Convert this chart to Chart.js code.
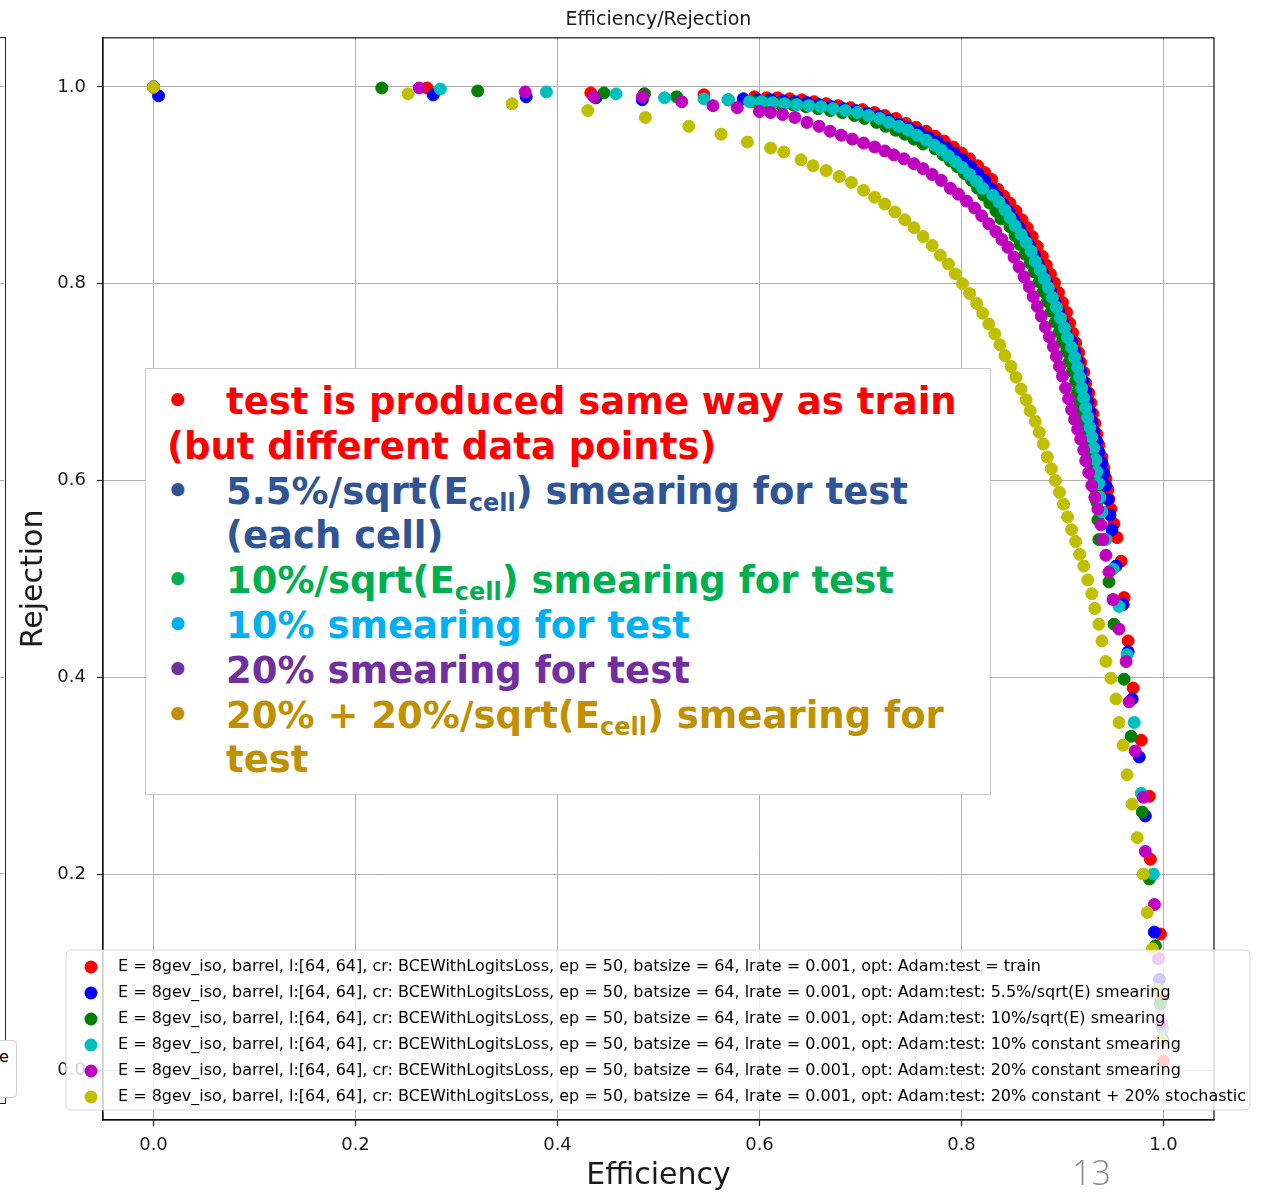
<!DOCTYPE html>
<html>
<head>
<meta charset="utf-8">
<title>Efficiency/Rejection</title>
<script src="https://cdn.jsdelivr.net/npm/chart.js@4.4.1/dist/chart.umd.min.js"></script>
<style>
  html, body { margin: 0; padding: 0; background: #fff; }
  #slide { position: relative; width: 1261px; height: 1192px; overflow: hidden; background: #fff; }
  #chart { position: absolute; left: 0; top: 0; }
  .prev-frame { position: absolute; left: -20px; top: 37px; width: 24px; height: 1065px; border: 1.5px solid #222; }
  .prev-grid { position: absolute; left: 0; width: 4px; height: 1px; background: #b0b0b0; }
  .prev-legend { position: absolute; left: -30px; top: 1040px; width: 45px; height: 56px; border: 1px solid #d0d0d0; border-radius: 4px; background: #fff; }
  .prev-legend span { position: absolute; left: 28px; top: 6px; font: 16px "DejaVu Sans"; color: #000; }
  #note { position: absolute; left: 145px; top: 368px; width: 846px; height: 427px; box-sizing: border-box;
          border: 1.5px solid #c8c8c8; background: #fff; padding-top: 11px;
          font: bold 37px "DejaVu Sans"; line-height: 44.8px; white-space: nowrap; }
  .ln { position: relative; padding-left: 80px; }
  .ln.wrap0 { padding-left: 21px; }
  .ln .b { position: absolute; left: 20px; top: 0; }
  .sub { font-size: 24px; vertical-align: -7px; line-height: 0; }
  #page { position: absolute; left: 1072px; top: 1155px; font: 300 34px "Open Sans"; line-height: 34px; color: #8c8c8c; }
</style>
</head>
<body>
<div id="slide">
  <div class="prev-frame"></div>
  <div class="prev-grid" style="top:86px"></div>
  <div class="prev-grid" style="top:283px"></div>
  <div class="prev-grid" style="top:480px"></div>
  <div class="prev-grid" style="top:677px"></div>
  <div class="prev-grid" style="top:873px"></div>
  <div class="prev-legend"><span>e</span></div>

  <canvas id="chart" width="1261" height="1192"></canvas>

  <div id="note">
    <div class="ln" style="color:#ff0000"><span class="b">•</span>test is produced same way as train</div>
    <div class="ln wrap0" style="color:#ff0000">(but different data points)</div>
    <div class="ln" style="color:#2f5597"><span class="b">•</span>5.5%/sqrt(E<span class="sub">cell</span>) smearing for test</div>
    <div class="ln" style="color:#2f5597">(each cell)</div>
    <div class="ln" style="color:#00b050"><span class="b">•</span>10%/sqrt(E<span class="sub">cell</span>) smearing for test</div>
    <div class="ln" style="color:#00b0f0"><span class="b">•</span>10% smearing for test</div>
    <div class="ln" style="color:#7030a0"><span class="b">•</span>20% smearing for test</div>
    <div class="ln" style="color:#bf9000"><span class="b">•</span>20% + 20%/sqrt(E<span class="sub">cell</span>) smearing for</div>
    <div class="ln" style="color:#bf9000">test</div>
  </div>

  <div id="page">13</div>
</div>

<script>
// [efficiency, rejection] pairs, one list per run
const trainPts = [[0,1],[0.271,0.999],[0.433,0.994],[0.486,0.993],[0.545,0.992],[0.595,0.990],[0.607,0.989],[0.618,0.989],[0.630,0.988],[0.642,0.987],[0.654,0.985],[0.666,0.983],[0.678,0.981],[0.690,0.979],[0.702,0.977],[0.714,0.974],[0.724,0.971],[0.735,0.968],[0.745,0.963],[0.755,0.959],[0.765,0.955],[0.774,0.950],[0.783,0.945],[0.792,0.939],[0.800,0.933],[0.808,0.927],[0.816,0.920],[0.823,0.913],[0.830,0.906],[0.836,0.896],[0.842,0.889],[0.848,0.882],[0.854,0.874],[0.860,0.865],[0.865,0.857],[0.870,0.848],[0.875,0.838],[0.880,0.828],[0.884,0.819],[0.888,0.810],[0.892,0.801],[0.896,0.791],[0.900,0.781],[0.904,0.771],[0.907,0.760],[0.910,0.750],[0.913,0.740],[0.916,0.730],[0.918,0.720],[0.921,0.710],[0.923,0.699],[0.926,0.689],[0.928,0.679],[0.930,0.668],[0.932,0.658],[0.934,0.647],[0.936,0.636],[0.939,0.624],[0.941,0.613],[0.943,0.602],[0.945,0.591],[0.946,0.581],[0.948,0.571],[0.951,0.556],[0.954,0.542],[0.958,0.518],[0.961,0.481],[0.965,0.437],[0.970,0.389],[0.978,0.336],[0.986,0.279],[0.987,0.215],[0.997,0.139],[0.998,0.073],[1.0,0.010]];

const smear55Pts = [[0.005,0.991],[0.277,0.992],[0.369,0.990],[0.438,0.989],[0.484,0.987],[0.584,0.988],[0.598,0.987],[0.611,0.987],[0.623,0.986],[0.635,0.985],[0.647,0.984],[0.659,0.982],[0.671,0.980],[0.683,0.978],[0.695,0.976],[0.707,0.973],[0.718,0.970],[0.728,0.966],[0.738,0.962],[0.748,0.958],[0.758,0.954],[0.767,0.949],[0.776,0.944],[0.785,0.938],[0.793,0.932],[0.801,0.926],[0.809,0.919],[0.816,0.912],[0.823,0.905],[0.830,0.896],[0.835,0.889],[0.841,0.881],[0.847,0.873],[0.852,0.865],[0.857,0.857],[0.862,0.848],[0.867,0.839],[0.872,0.829],[0.876,0.820],[0.880,0.811],[0.884,0.802],[0.888,0.792],[0.892,0.782],[0.896,0.772],[0.900,0.761],[0.903,0.751],[0.909,0.741],[0.912,0.731],[0.915,0.721],[0.918,0.711],[0.920,0.701],[0.923,0.690],[0.925,0.680],[0.927,0.670],[0.929,0.660],[0.931,0.650],[0.934,0.640],[0.936,0.629],[0.939,0.618],[0.941,0.607],[0.943,0.595],[0.945,0.581],[0.947,0.565],[0.949,0.550],[0.953,0.513],[0.960,0.474],[0.965,0.426],[0.969,0.378],[0.976,0.319],[0.982,0.259],[0.991,0.141],[0.996,0.093],[0.999,0.032]];

const smear10Pts = [[0,1],[0.226,0.999],[0.321,0.996],[0.446,0.994],[0.486,0.993],[0.518,0.990],[0.569,0.987],[0.594,0.985],[0.607,0.984],[0.620,0.983],[0.633,0.982],[0.646,0.980],[0.658,0.978],[0.670,0.976],[0.682,0.974],[0.694,0.971],[0.704,0.968],[0.716,0.964],[0.725,0.960],[0.735,0.956],[0.744,0.952],[0.753,0.947],[0.762,0.942],[0.774,0.937],[0.782,0.931],[0.789,0.925],[0.796,0.919],[0.803,0.912],[0.810,0.905],[0.816,0.897],[0.822,0.890],[0.828,0.882],[0.834,0.874],[0.839,0.866],[0.848,0.858],[0.853,0.849],[0.858,0.840],[0.863,0.830],[0.868,0.821],[0.872,0.812],[0.877,0.802],[0.881,0.792],[0.885,0.782],[0.889,0.772],[0.893,0.761],[0.897,0.751],[0.900,0.741],[0.904,0.731],[0.907,0.721],[0.910,0.711],[0.913,0.701],[0.915,0.690],[0.917,0.680],[0.920,0.670],[0.922,0.660],[0.924,0.650],[0.926,0.638],[0.928,0.627],[0.930,0.616],[0.931,0.604],[0.933,0.591],[0.934,0.578],[0.935,0.560],[0.936,0.540],[0.946,0.497],[0.951,0.454],[0.961,0.398],[0.968,0.340],[0.979,0.263],[0.986,0.195],[0.992,0.127],[0.997,0.068]];

const const10Pts = [[0,1],[0.284,0.998],[0.389,0.995],[0.458,0.993],[0.506,0.989],[0.545,0.988],[0.569,0.987],[0.590,0.985],[0.602,0.985],[0.613,0.984],[0.625,0.983],[0.637,0.982],[0.649,0.981],[0.661,0.980],[0.673,0.978],[0.685,0.976],[0.697,0.974],[0.708,0.971],[0.719,0.968],[0.728,0.964],[0.738,0.960],[0.747,0.956],[0.756,0.951],[0.765,0.946],[0.773,0.941],[0.780,0.936],[0.787,0.930],[0.794,0.924],[0.801,0.918],[0.808,0.911],[0.815,0.904],[0.821,0.897],[0.831,0.890],[0.837,0.883],[0.843,0.875],[0.848,0.867],[0.853,0.859],[0.859,0.850],[0.864,0.842],[0.869,0.833],[0.873,0.823],[0.878,0.814],[0.882,0.805],[0.886,0.796],[0.890,0.786],[0.894,0.776],[0.898,0.765],[0.902,0.755],[0.905,0.745],[0.909,0.735],[0.912,0.725],[0.915,0.715],[0.917,0.705],[0.919,0.694],[0.921,0.684],[0.923,0.674],[0.925,0.664],[0.927,0.654],[0.929,0.644],[0.931,0.633],[0.933,0.621],[0.934,0.609],[0.936,0.597],[0.937,0.583],[0.939,0.568],[0.943,0.540],[0.950,0.510],[0.956,0.472],[0.964,0.423],[0.971,0.354],[0.978,0.282],[0.990,0.200],[0.995,0.114],[0.999,0.043]];

const const20Pts = [[0,1],[0.263,0.999],[0.368,0.995],[0.436,0.990],[0.484,0.990],[0.523,0.985],[0.554,0.981],[0.578,0.979],[0.600,0.975],[0.611,0.974],[0.623,0.972],[0.635,0.969],[0.647,0.964],[0.659,0.960],[0.670,0.955],[0.681,0.951],[0.692,0.947],[0.703,0.943],[0.714,0.939],[0.724,0.935],[0.733,0.931],[0.743,0.927],[0.753,0.922],[0.762,0.917],[0.771,0.911],[0.780,0.905],[0.789,0.897],[0.797,0.891],[0.805,0.884],[0.813,0.877],[0.820,0.869],[0.827,0.861],[0.834,0.853],[0.840,0.845],[0.846,0.837],[0.852,0.827],[0.857,0.817],[0.862,0.807],[0.867,0.797],[0.871,0.787],[0.875,0.777],[0.879,0.767],[0.883,0.756],[0.887,0.746],[0.891,0.736],[0.894,0.726],[0.897,0.716],[0.900,0.706],[0.903,0.694],[0.906,0.683],[0.909,0.672],[0.912,0.662],[0.915,0.652],[0.918,0.642],[0.921,0.631],[0.923,0.620],[0.926,0.608],[0.929,0.595],[0.932,0.583],[0.935,0.571],[0.938,0.555],[0.940,0.540],[0.943,0.524],[0.946,0.507],[0.950,0.479],[0.956,0.449],[0.963,0.416],[0.966,0.375],[0.972,0.325],[0.980,0.278],[0.982,0.223],[0.991,0.169],[0.995,0.114],[0.998,0.048]];

const stochPts = [[0,1],[0.252,0.993],[0.355,0.983],[0.430,0.976],[0.487,0.969],[0.530,0.960],[0.562,0.952],[0.588,0.944],[0.611,0.938],[0.624,0.934],[0.641,0.926],[0.653,0.920],[0.666,0.915],[0.679,0.909],[0.691,0.903],[0.703,0.895],[0.714,0.888],[0.724,0.881],[0.734,0.873],[0.744,0.865],[0.753,0.857],[0.762,0.848],[0.771,0.839],[0.779,0.829],[0.787,0.820],[0.794,0.810],[0.801,0.800],[0.808,0.790],[0.815,0.780],[0.821,0.770],[0.827,0.759],[0.833,0.749],[0.838,0.738],[0.843,0.727],[0.849,0.716],[0.854,0.705],[0.859,0.693],[0.864,0.682],[0.868,0.671],[0.873,0.660],[0.877,0.649],[0.881,0.637],[0.885,0.624],[0.889,0.612],[0.893,0.600],[0.897,0.588],[0.901,0.576],[0.905,0.563],[0.909,0.550],[0.913,0.538],[0.917,0.525],[0.921,0.513],[0.925,0.499],[0.929,0.485],[0.932,0.470],[0.936,0.454],[0.939,0.437],[0.943,0.416],[0.948,0.399],[0.953,0.378],[0.956,0.354],[0.960,0.331],[0.964,0.301],[0.969,0.271],[0.974,0.237],[0.980,0.200],[0.984,0.161],[0.989,0.124],[0.994,0.083],[0.998,0.032]];

const runPrefix = "E = 8gev_iso, barrel, l:[64, 64], cr: BCEWithLogitsLoss, ep = 50, batsize = 64, lrate = 0.001, opt: Adam:";
const runLabels = [
  runPrefix + "test = train",
  runPrefix + "test: 5.5%/sqrt(E) smearing",
  runPrefix + "test: 10%/sqrt(E) smearing",
  runPrefix + "test: 10% constant smearing",
  runPrefix + "test: 20% constant smearing",
  runPrefix + "test: 20% constant + 20% stochastic"
];
const runSeries = [trainPts, smear55Pts, smear10Pts, const10Pts, const20Pts, stochPts];
const runColors = ["#ff0000", "#0000ff", "#008000", "#00bfbf", "#bf00bf", "#bfbf00"];
const tickValues = [0, 0.2, 0.4, 0.6, 0.8, 1.0];

Chart.defaults.font.family = '"DejaVu Sans"';
Chart.defaults.color = "#1a1a1a";

// full box around the axes plus the matplotlib style legend in the lower left
const frameAndLegend = {
  id: "frameAndLegend",
  afterDatasetsDraw(chart) {
    const { ctx, chartArea: a } = chart;
    ctx.save();
    ctx.strokeStyle = "#111";
    ctx.lineWidth = 1.2;
    ctx.strokeRect(a.left, a.top, a.right - a.left, a.bottom - a.top);

    const bx = a.left - 37, by = a.bottom - 170, bw = 1184, bh = 160;
    ctx.beginPath();
    ctx.roundRect(bx, by, bw, bh, 5);
    ctx.fillStyle = "rgba(255,255,255,0.8)";
    ctx.fill();
    ctx.strokeStyle = "rgba(204,204,204,0.8)";
    ctx.lineWidth = 1;
    ctx.stroke();

    ctx.font = '16px "DejaVu Sans"';
    ctx.textBaseline = "middle";
    chart.data.datasets.forEach((ds, i) => {
      const y = by + 17 + i * 26;
      ctx.beginPath();
      ctx.arc(bx + 25, y, 6.5, 0, Math.PI * 2);
      ctx.fillStyle = ds.backgroundColor;
      ctx.fill();
      ctx.fillStyle = "#000";
      ctx.fillText(ds.label, bx + 52, y);
    });
    ctx.restore();
  }
};

const axisCommon = {
  type: "linear",
  min: -0.05,
  max: 1.05,
  afterBuildTicks: (scale) => { scale.ticks = tickValues.map((v) => ({ value: v })); },
  grid: { color: "#b0b0b0", lineWidth: 1, tickColor: "#222", tickLength: 6, tickWidth: 1.2 },
  border: { color: "#111", width: 1.2 },
};

new Chart(document.getElementById("chart"), {
  type: "scatter",
  data: {
    datasets: runSeries.map((pts, i) => ({
      label: runLabels[i],
      data: pts.map(([x, y]) => ({ x, y })),
      backgroundColor: runColors[i],
      borderColor: runColors[i],
      borderWidth: 1,
      pointRadius: 6,
      order: runSeries.length - i
    }))
  },
  options: {
    responsive: false,
    animation: false,
    devicePixelRatio: 1,
    events: [],
    layout: { padding: { left: 0, top: 0, right: 47, bottom: 0 } },
    plugins: {
      legend: { display: false },
      tooltip: { enabled: false },
      title: {
        display: true,
        text: "Efficiency/Rejection",
        fullSize: false,
        color: "#1a1a1a",
        font: { size: 19, weight: "normal" },
        padding: { top: 9, bottom: 6 }
      }
    },
    scales: {
      x: {
        ...axisCommon,
        position: "bottom",
        afterFit: (s) => { s.height = 72; },
        ticks: { font: { size: 18 }, color: "#1a1a1a", padding: 9, maxRotation: 0, callback: (v) => Number(v).toFixed(1) },
        title: { display: true, text: "Efficiency", font: { size: 30 }, color: "#1a1a1a", padding: { top: 0, bottom: -2 } }
      },
      y: {
        ...axisCommon,
        position: "left",
        afterFit: (s) => { s.width = 103; },
        ticks: { font: { size: 18 }, color: "#1a1a1a", padding: 11, callback: (v) => Number(v).toFixed(1) },
        title: { display: true, text: "Rejection", font: { size: 30 }, color: "#1a1a1a", padding: { top: 16, bottom: 0 } }
      }
    }
  },
  plugins: [frameAndLegend]
});
</script>
</body>
</html>
